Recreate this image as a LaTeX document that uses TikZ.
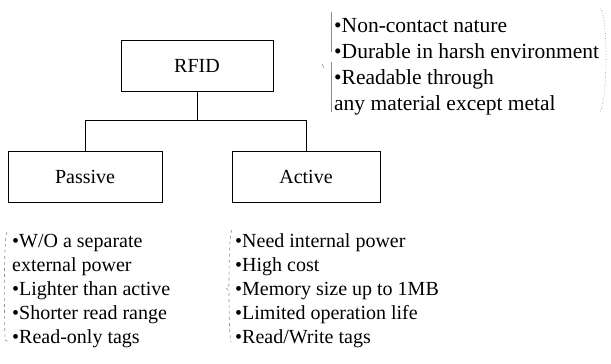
\documentclass[tikz,border=0pt]{standalone}
\usepackage{fontspec}
\setmainfont{Liberation Serif}
\begin{document}
\begin{tikzpicture}[x=1pt,y=-1pt,
  box/.style={draw=black,line width=0.9pt,minimum width=152pt,minimum height=51pt,inner sep=0pt,font=\fontsize{20}{24}\selectfont},
  conn/.style={draw=black,line width=0.9pt},
  blockA/.style={anchor=north west,inner sep=0pt,align=left,font=\fontsize{20}{24}\selectfont},
  blockB/.style={anchor=north west,inner sep=0pt,align=left,font=\fontsize{21.5}{26}\selectfont},
  brk/.style={draw=black!45,line width=0.6pt}]
\useasboundingbox (0,0) rectangle (611,364);
\fill[white] (0,0) rectangle (611,364);
\node[box] (rfid) at (197,65.5) {RFID};
\node[box,minimum width=154pt] (passive) at (85,177) {Passive};
\node[box,minimum width=148pt] (active) at (306,177) {Active};
\coordinate (mid) at (197,120);
\coordinate (pl) at (85,120);
\coordinate (ar) at (306,120);
\draw[conn] (rfid.south) -- (mid);
\draw[conn] (pl) -- (ar);
\draw[conn] (pl) -- (passive.north);
\draw[conn] (ar) -- (active.north);
% top-right notes
\node[blockB] (props) at (334,13.8) {\strut•Non-contact nature\\\strut•Durable in harsh environment\\\strut•Readable through\\\strut any material except metal};
\draw[brk] (331,12) -- (331,52);
\draw[brk] (331,62) -- (331,112);
\draw[brk] (322,64) -- (324,68);
\draw[brk,dotted] (600,8) .. controls (608,14) and (608,100) .. (600,112);
% passive notes
\node[blockA] (pnotes) at (12,230) {\strut•W/O a separate\\\strut external power\\\strut•Lighter than active\\\strut•Shorter read range\\\strut•Read-only tags};
\draw[brk,dashed] (7,232) .. controls (4,234) and (4,300) .. (5,340) -- (9,342);
% active notes
\node[blockA] (anotes) at (235,230) {\strut•Need internal power\\\strut•High cost\\\strut•Memory size up to 1MB\\\strut•Limited operation life\\\strut•Read/Write tags};
\draw[brk,dashed] (232,230) .. controls (229,232) and (229,280) .. (229,285) -- (226,288) -- (229,291) .. controls (229,300) and (229,335) .. (231,342);
\end{tikzpicture}
\end{document}
